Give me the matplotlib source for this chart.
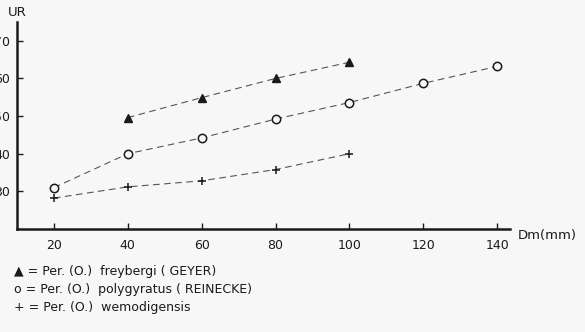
import matplotlib
matplotlib.use("Agg")
import matplotlib.pyplot as plt

# data
dm_freybergi = [40, 60, 80, 100]
ur_freybergi = [49.6, 54.9, 60.0, 64.3]

dm_polygyratus = [20, 40, 60, 80, 100, 120, 140]
ur_polygyratus = [31.0, 40.0, 44.2, 49.2, 53.6, 58.7, 63.2]

dm_wemodigensis = [20, 40, 60, 80, 100]
ur_wemodigensis = [28.2, 31.2, 32.8, 35.8, 40.0]

x_ticks = [20, 40, 60, 80, 100, 120, 140]
y_ticks = [30, 40, 50, 60, 70]
legend_lines = [
    "\u25b2 = Per. (O.)  freybergi ( GEYER)",
    "o = Per. (O.)  polygyratus ( REINECKE)",
    "+ = Per. (O.)  wemodigensis",
]

_BG = "#f7f7f7"
_INK = "#1a1a1a"
_LINE = "#555555"
W, H = 585, 332

fig = plt.figure(figsize=(W / 100, H / 100), dpi=100, facecolor=_BG)
ax = fig.add_axes([17 / W, 1 - 229 / H, (510 - 17) / W, (229 - 22) / H])
ax.set_facecolor(_BG)

dash = dict(ls=(0, (6, 4)), lw=0.8, color=_LINE)
ax.plot(dm_freybergi, ur_freybergi, **dash)
ax.plot(dm_polygyratus, ur_polygyratus, **dash)
ax.plot(dm_wemodigensis, ur_wemodigensis, **dash)

ax.plot(dm_freybergi, ur_freybergi, ls="none", marker="^", ms=6,
        mfc=_INK, mec=_INK)
ax.plot(dm_polygyratus, ur_polygyratus, ls="none", marker="o", ms=6,
        mfc=_BG, mec=_INK, mew=1.1)
ax.plot(dm_wemodigensis, ur_wemodigensis, ls="none", marker="+", ms=6,
        color=_INK, mew=1.1)

ax.set_xlim(10, 143.5)
ax.set_ylim(20, 75)
ax.set_xticks(x_ticks)
ax.set_yticks(y_ticks)
ax.tick_params(direction="in", length=4, width=1, colors=_INK,
               labelsize=9, pad=7)
# y labels sit partly outside the left edge, as in the scanned original
ax.tick_params(axis="y", pad=5)
for side in ("top", "right"):
    ax.spines[side].set_visible(False)
for side in ("left", "bottom"):
    ax.spines[side].set_linewidth(1.8)
    ax.spines[side].set_color(_INK)

fig.text(8 / W, 1 - 12 / H, "UR", fontsize=9.5, color=_INK,
         ha="left", va="center")
fig.text(518 / W, 1 - 236 / H, "Dm(mm)", fontsize=9.5, color=_INK,
         ha="left", va="center")

for i, txt in enumerate(legend_lines):
    fig.text(14 / W, 1 - (271 + 18.5 * i) / H, txt, fontsize=9,
             color=_INK, ha="left", va="center")

fig.savefig("out.png", dpi=100, facecolor=_BG)
